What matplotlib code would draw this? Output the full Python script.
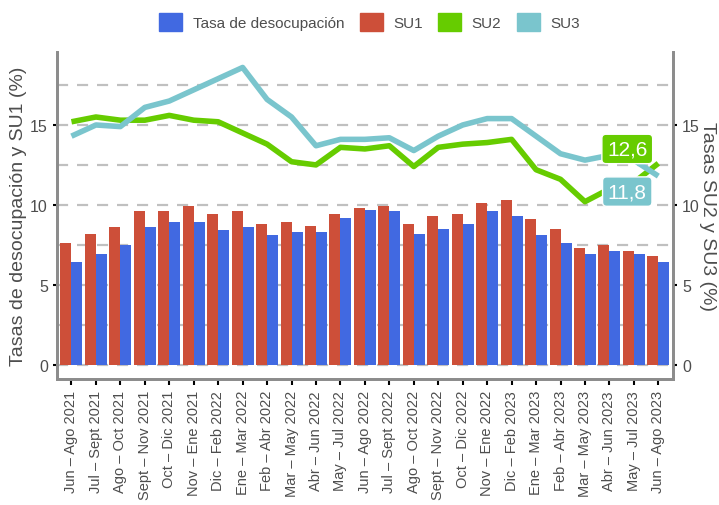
import matplotlib
matplotlib.use("Agg")
import matplotlib.pyplot as plt
import numpy as np
from matplotlib.patches import Patch

plt.rcParams['font.family'] = ['Liberation Sans', 'DejaVu Sans']

# periodos (trimestres móviles)
periodos = ['Jun – Ago 2021', 'Jul – Sept 2021', 'Ago – Oct 2021', 'Sept – Nov 2021',
            'Oct – Dic 2021', 'Nov – Ene 2021', 'Dic – Feb 2022', 'Ene – Mar 2022',
            'Feb – Abr 2022', 'Mar – May 2022', 'Abr – Jun 2022', 'May – Jul 2022',
            'Jun – Ago 2022', 'Jul – Sept 2022', 'Ago – Oct 2022', 'Sept – Nov 2022',
            'Oct – Dic 2022', 'Nov – Ene 2022', 'Dic – Feb 2023', 'Ene – Mar 2023',
            'Feb – Abr 2023', 'Mar – May 2023', 'Abr – Jun 2023', 'May – Jul 2023',
            'Jun – Ago 2023']

tasa = [6.4, 6.9, 7.5, 8.6, 8.9, 8.9, 8.4, 8.6, 8.1, 8.3, 8.3, 9.2, 9.7,
        9.6, 8.2, 8.5, 8.8, 9.6, 9.3, 8.1, 7.6, 6.9, 7.1, 6.9, 6.4]
su1 = [7.6, 8.2, 8.6, 9.6, 9.6, 9.9, 9.4, 9.6, 8.8, 8.9, 8.7, 9.4, 9.8,
       9.9, 8.8, 9.3, 9.4, 10.1, 10.3, 9.1, 8.5, 7.3, 7.5, 7.1, 6.8]
su2 = [15.2, 15.5, 15.3, 15.3, 15.6, 15.3, 15.2, 14.5, 13.8, 12.7, 12.5, 13.6, 13.5,
       13.7, 12.4, 13.6, 13.8, 13.9, 14.1, 12.2, 11.6, 10.2, 11.0, 11.4, 12.6]
su3 = [14.3, 15.0, 14.9, 16.1, 16.5, 17.2, 17.9, 18.6, 16.6, 15.5, 13.7, 14.1, 14.1,
       14.2, 13.4, 14.3, 15.0, 15.4, 15.4, 14.3, 13.2, 12.8, 13.1, 12.8, 11.8]

c_tasa = '#4169E1'
c_su1 = '#CD4F39'
c_su2 = '#66CC00'
c_su3 = '#7AC5CD'
gris = '#4d4d4d'

x = np.arange(len(periodos))
w = 0.45

fig = plt.figure(figsize=(7.19, 5.06), dpi=100)
ax = fig.add_axes([0.079, 0.249, 0.857, 0.646])

for y in np.arange(0, 20, 2.5):
    ax.axhline(y, color='#c0c0c0', lw=1.6, ls=(0, (5, 4)), zorder=0)

ax.bar(x - w / 2, su1, width=w, color=c_su1, zorder=2)
ax.bar(x + w / 2, tasa, width=w, color=c_tasa, zorder=2)

ax2 = ax.twinx()
ax2.plot(x, su2, color=c_su2, lw=4, solid_capstyle='butt', zorder=3)
ax2.plot(x, su3, color=c_su3, lw=4, solid_capstyle='butt', zorder=3)

ylim = (-0.9, 19.56)
ax.set_ylim(*ylim)
ax2.set_ylim(*ylim)
ax.set_xlim(-0.6, 24.6)

ax.set_yticks([0, 5, 10, 15])
ax2.set_yticks([0, 5, 10, 15])
ax.set_xticks(x)
ax.set_xticklabels(periodos, rotation=90, fontsize=10.5, color=gris)

for a in (ax, ax2):
    a.spines['top'].set_visible(False)
    for s in ('left', 'right', 'bottom'):
        a.spines[s].set_color('#8c8c8c')
        a.spines[s].set_linewidth(2)
    a.tick_params(axis='y', labelsize=11.5, labelcolor=gris, length=3, width=1.5, color='black')
ax.tick_params(axis='x', length=4, width=1.5, color='black', pad=4)

ax.set_ylabel('Tasas de desocupación y SU1 (%)', fontsize=14, color=gris, labelpad=2)
ax2.set_ylabel('Tasas SU2 y SU3 (%)', fontsize=14, color=gris, rotation=-90, labelpad=12)

# etiquetas del último valor
ax2.text(22.73, 13.5, f'{su2[-1]:.1f}'.replace('.', ','), color='white', fontsize=15,
         ha='center', va='center', zorder=5,
         bbox=dict(boxstyle='round,pad=0.25,rounding_size=0.2', fc=c_su2, ec='white', lw=1))
ax2.text(22.73, 10.83, f'{su3[-1]:.1f}'.replace('.', ','), color='white', fontsize=15,
         ha='center', va='center', zorder=5,
         bbox=dict(boxstyle='round,pad=0.25,rounding_size=0.2', fc=c_su3, ec='white', lw=1))

handles = [Patch(color=c_tasa), Patch(color=c_su1), Patch(color=c_su2), Patch(color=c_su3)]
fig.legend(handles, ['Tasa de desocupación', 'SU1', 'SU2', 'SU3'], loc='upper center',
           bbox_to_anchor=(0.514, 1.0), ncol=4, frameon=False, fontsize=11,
           handlelength=1.5, handleheight=1.5, handletextpad=0.7, columnspacing=1.0,
           labelcolor=gris)

fig.savefig('out.png', dpi=100)
